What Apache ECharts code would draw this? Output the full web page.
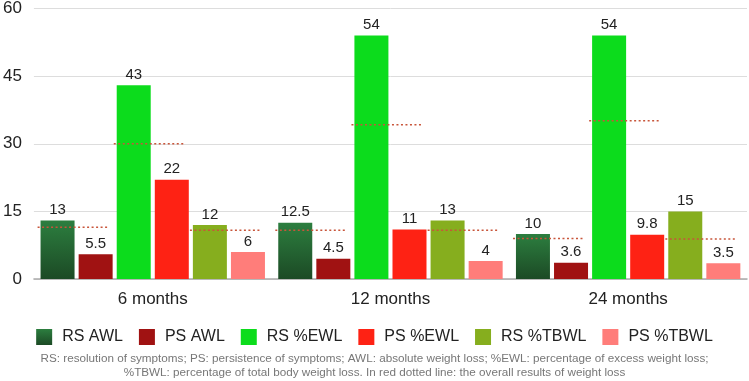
<!DOCTYPE html>
<html>
<head>
<meta charset="utf-8">
<script src="https://cdn.jsdelivr.net/npm/echarts@6/dist/echarts.min.js"></script>
<style>
    html, body { margin: 0; padding: 0; background: #fff; }
    #chart { width: 749px; height: 381px; }
</style>
</head>
<body>
<div id="chart"></div>
<script>
const categories = ['6 months', '12 months', '24 months'];

const rsAwl = [13, 12.5, 10];
const psAwl = [5.5, 4.5, 3.6];
const rsEwl = [43, 54, 54];
const psEwl = [22, 11, 9.8];
const rsTbwl = [12, 13, 15];
const psTbwl = [6, 4, 3.5];

// overall results (red dotted lines)
const overallAwl = [11.5, 10.8, 9];
const overallEwl = [30, 34.2, 35.1];
const overallTbwl = [10.8, 10.8, 8.9];

const yTicks = [0, 15, 30, 45, 60];

const footnote = 'RS: resolution of symptoms; PS: persistence of symptoms; AWL: absolute weight loss; %EWL: percentage of excess weight loss;\n%TBWL: percentage of total body weight loss. In red dotted line: the overall results of weight loss';

const BAR_W = 34;
const BAR_GAP = 0.12;

window.addEventListener('DOMContentLoaded', () => {
    const chartDom = document.getElementById('chart');
    const myChart = echarts.init(chartDom, null, { renderer: 'canvas' });

    const font = '"Liberation Sans", Arial, Helvetica, sans-serif';

    const barSeries = (name, data, color) => ({
        name: name,
        type: 'bar',
        data: data,
        barWidth: BAR_W,
        barGap: (BAR_GAP * 100) + '%',
        itemStyle: { color: color },
        label: {
            show: true,
            position: 'top',
            distance: 3,
            fontSize: 15,
            color: '#222',
            fontFamily: font
        }
    });

    const overallData = categories.map((c, i) => [i, overallAwl[i], overallEwl[i], overallTbwl[i]]);

    myChart.setOption({
        animation: false,
        textStyle: { fontFamily: font },
        grid: {
            left: 32,
            right: 2,
            top: 7,
            bottom: 102
        },
        legend: {
            top: 324,
            left: 'center',
            icon: 'rect',
            itemWidth: 16,
            itemHeight: 16,
            itemGap: 16,
            textStyle: { fontSize: 16, color: '#222', fontFamily: font, padding: [0, 0, 0, 5] },
            data: ['RS AWL', 'PS AWL', 'RS %EWL', 'PS %EWL', 'RS %TBWL', 'PS %TBWL']
        },
        xAxis: {
            type: 'category',
            data: categories,
            axisTick: { show: false },
            axisLine: { lineStyle: { color: '#aaa', width: 1.5 } },
            axisLabel: { fontSize: 17, color: '#222', margin: 12, fontFamily: font }
        },
        yAxis: {
            type: 'value',
            min: yTicks[0],
            max: yTicks[yTicks.length - 1],
            interval: 15,
            axisLine: { show: false },
            axisTick: { show: false },
            axisLabel: { fontSize: 17, color: '#222', margin: 12, fontFamily: font },
            splitLine: { lineStyle: { color: '#ddd', width: 1 } }
        },
        graphic: [{
            type: 'text',
            left: 'center',
            top: 352,
            style: {
                text: footnote,
                textAlign: 'center',
                fontSize: 11.7,
                lineHeight: 14,
                fill: '#777',
                fontFamily: font
            }
        }],
        series: [
            barSeries('RS AWL', rsAwl, new echarts.graphic.LinearGradient(0, 0, 0, 1, [
                { offset: 0, color: '#2c7e3f' },
                { offset: 1, color: '#1c4a25' }
            ])),
            barSeries('PS AWL', psAwl, '#a01212'),
            barSeries('RS %EWL', rsEwl, '#0cdc1c'),
            barSeries('PS %EWL', psEwl, '#fe2214'),
            barSeries('RS %TBWL', rsTbwl, '#86ae1e'),
            barSeries('PS %TBWL', psTbwl, '#ff7d7a'),
            {
                name: 'overall',
                type: 'custom',
                data: overallData,
                z: 5,
                silent: true,
                renderItem: (params, api) => {
                    const center = api.coord([api.value(0), 0]);
                    const gap = BAR_W * BAR_GAP;
                    const groupW = 6 * BAR_W + 5 * gap;
                    const children = [];
                    for (let k = 0; k < 3; k++) {
                        const cx = center[0] - groupW / 2 + k * 2 * (BAR_W + gap) + BAR_W + gap / 2 - 3;
                        const y = api.coord([api.value(0), api.value(k + 1)])[1];
                        children.push({
                            type: 'line',
                            shape: { x1: cx - 36, y1: y, x2: cx + 36, y2: y },
                            style: { stroke: '#c8553a', lineWidth: 1.5, lineDash: [2, 2.5] }
                        });
                    }
                    return { type: 'group', children: children };
                }
            }
        ]
    });
});
</script>
</body>
</html>
